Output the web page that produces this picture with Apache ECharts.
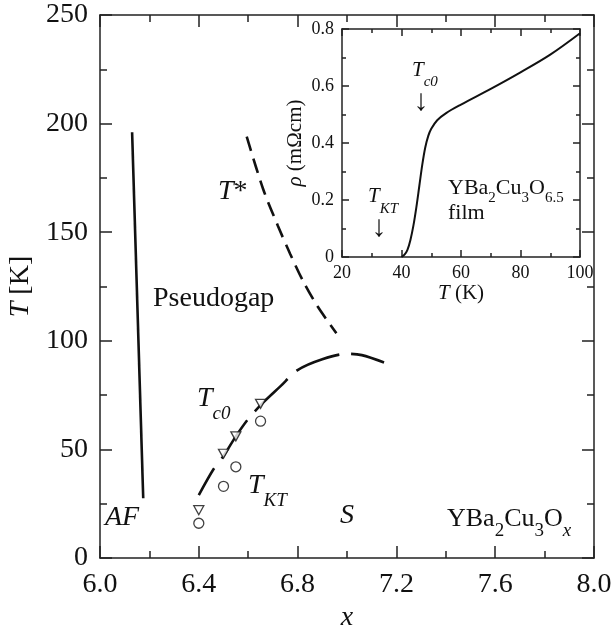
<!DOCTYPE html>
<html>
<head>
<meta charset="utf-8">
<script src="https://cdn.jsdelivr.net/npm/echarts@6/dist/echarts.min.js"></script>
<style>
html,body{margin:0;padding:0;background:#fff;}
#chart{width:614px;height:627px;}
</style>
</head>
<body>
<div id="chart"></div>
<script>
// ---- data ----
// main panel: x (oxygen content) vs T [K]
const afX = [6.13, 6.175];
const afT = [196, 27.5];
const tStarX = [6.594, 6.66, 6.72, 6.77, 6.82, 6.88, 6.957];
const tStarT = [194, 170, 153, 140, 128, 116, 103.5];
const tc0LineX = [6.40, 6.46, 6.50, 6.55, 6.60, 6.66, 6.73, 6.80, 6.90, 7.00, 7.06, 7.15];
const tc0LineT = [29, 41, 47, 56, 64, 71.5, 79, 86.5, 91.5, 94, 93.4, 90];
const tc0X = [6.40, 6.50, 6.55, 6.65];
const tc0T = [22, 48, 56, 71];
const tktX = [6.40, 6.50, 6.55, 6.65];
const tktT = [16, 33, 42, 63];
// inset: resistivity of YBa2Cu3O6.5 film
const rhoT = [40, 41, 42, 43, 44, 45, 46, 47, 48, 49, 50, 52, 55, 60, 70, 80, 90, 100];
const rhoV = [0, 0.008, 0.025, 0.06, 0.11, 0.175, 0.25, 0.325, 0.385, 0.425, 0.45, 0.48, 0.505, 0.535, 0.59, 0.648, 0.71, 0.785];
// tick settings
const mainXTicks = {min: 6.0, max: 8.0, step: 0.4};
const mainYTicks = {min: 0, max: 250, step: 50};
const insetXTicks = {min: 20, max: 100, step: 20};
const insetYTicks = {min: 0, max: 0.8, step: 0.2};

const pairs = (xs, ys) => xs.map((x, i) => [x, ys[i]]);

const FONT = "'Liberation Serif','Times New Roman',Times,serif";
const INK = '#111';
const AX = {color: '#222', width: 1.5};

function mainAxis(kind, pos, ticks, showLabel, extra) {
  return Object.assign({
    type: 'value', gridIndex: 0, position: pos,
    min: ticks.min, max: ticks.max, interval: ticks.step,
    axisLine: {show: true, onZero: false, lineStyle: AX},
    axisTick: {show: true, inside: true, length: 12, lineStyle: AX},
    minorTick: {show: true, splitNumber: 2, length: 7, lineStyle: AX},
    splitLine: {show: false}, minorSplitLine: {show: false},
    axisLabel: {show: showLabel, fontFamily: FONT, fontSize: 28, color: INK,
      margin: kind === 'x' ? 13 : 12,
      formatter: kind === 'x' ? (v => v.toFixed(1)) : (v => String(v))}
  }, extra || {});
}
function insetAxis(kind, pos, ticks, showLabel, extra) {
  return Object.assign({
    type: 'value', gridIndex: 1, position: pos,
    min: ticks.min, max: ticks.max, interval: ticks.step,
    axisLine: {show: true, onZero: false, lineStyle: AX},
    axisTick: {show: true, inside: true, length: 7, lineStyle: AX},
    minorTick: {show: true, splitNumber: 2, length: 4, lineStyle: AX},
    splitLine: {show: false}, minorSplitLine: {show: false},
    axisLabel: {show: showLabel, fontFamily: FONT, fontSize: 18, color: INK,
      margin: kind === 'x' ? 7 : 8,
      formatter: kind === 'x' ? (v => String(v)) : (v => v === 0 ? '0' : v.toFixed(1))}
  }, extra || {});
}

function rt(left, cy, text, rich, opts) {
  return {
    type: 'text', x: left, y: cy, z: 100,
    style: Object.assign({text: text, x: 0, y: 0, textAlign: 'left', textVerticalAlign: 'middle',
      font: '28px ' + FONT, fill: INK, rich: rich || {}}, opts || {})
  };
}
const R = (size, italic, pad) => ({fontSize: size, fontFamily: FONT, fontStyle: italic ? 'italic' : 'normal',
  fill: INK, verticalAlign: 'middle', padding: pad ? [pad, 0, 0, 0] : [0, 0, 0, 0]});

const chart = echarts.init(document.getElementById('chart'), null, {renderer: 'canvas'});
chart.setOption({
  animation: false,
  backgroundColor: '#fff',
  grid: [
    {left: 100, top: 15, right: 20, bottom: 69, containLabel: false, outerBoundsMode: 'none'},
    {left: 342, top: 29, right: 34, bottom: 370, containLabel: false, outerBoundsMode: 'none'}
  ],
  xAxis: [
    mainAxis('x', 'bottom', mainXTicks, true, {
      name: 'x', nameLocation: 'middle', nameGap: 39,
      nameTextStyle: {fontFamily: FONT, fontSize: 28, fontStyle: 'italic', color: INK}}),
    mainAxis('x', 'top', mainXTicks, false),
    insetAxis('x', 'bottom', insetXTicks, true, {
      name: '{i|T} (K)', nameLocation: 'middle', nameGap: 26,
      nameTextStyle: {fontFamily: FONT, fontSize: 21, color: INK,
        rich: {i: {fontFamily: FONT, fontSize: 21, fontStyle: 'italic', color: INK}}}}),
    insetAxis('x', 'top', insetXTicks, false)
  ],
  yAxis: [
    mainAxis('y', 'left', mainYTicks, true, {
      name: '{i|T} [K]', nameLocation: 'middle', nameGap: 59,
      nameTextStyle: {fontFamily: FONT, fontSize: 28, color: INK,
        rich: {i: {fontFamily: FONT, fontSize: 28, fontStyle: 'italic', color: INK}}}}),
    mainAxis('y', 'right', mainYTicks, false),
    insetAxis('y', 'left', insetYTicks, true, {
      name: '{i|ρ} (mΩcm)', nameLocation: 'middle', nameGap: 36,
      nameTextStyle: {fontFamily: FONT, fontSize: 21, color: INK,
        rich: {i: {fontFamily: FONT, fontSize: 21, fontStyle: 'italic', color: INK}}}}),
    insetAxis('y', 'right', insetYTicks, false)
  ],
  series: [
    {type: 'line', name: 'AF boundary', xAxisIndex: 0, yAxisIndex: 0, data: pairs(afX, afT),
      symbol: 'none', lineStyle: {color: INK, width: 2.6}},
    {type: 'line', name: 'T*', xAxisIndex: 0, yAxisIndex: 0, data: pairs(tStarX, tStarT),
      symbol: 'none', smooth: 0.3, lineStyle: {color: INK, width: 2.6, type: [15, 8]}},
    {type: 'line', name: 'Tc0 dome', xAxisIndex: 0, yAxisIndex: 0, data: pairs(tc0LineX, tc0LineT),
      symbol: 'none', smooth: 0.3, lineStyle: {color: INK, width: 2.6, type: [46, 12], dashOffset: 15}},
    {type: 'scatter', name: 'Tc0', xAxisIndex: 0, yAxisIndex: 0, data: pairs(tc0X, tc0T), z: 5,
      symbol: 'triangle', symbolRotate: 180, symbolSize: [10, 9],
      itemStyle: {color: '#fff', borderColor: INK, borderWidth: 1.3}},
    {type: 'scatter', name: 'TKT', xAxisIndex: 0, yAxisIndex: 0, data: pairs(tktX, tktT), z: 5,
      symbol: 'circle', symbolSize: 10,
      itemStyle: {color: '#fff', borderColor: INK, borderWidth: 1.3}},
    {type: 'line', name: 'rho', xAxisIndex: 2, yAxisIndex: 2, data: pairs(rhoT, rhoV),
      symbol: 'none', smooth: 0.35, lineStyle: {color: INK, width: 2}}
  ],
  graphic: [
    rt(153, 299, 'Pseudogap'),
    rt(218, 192, '{i|T}{n|*}', {i: R(28, true), n: R(28, false)}),
    rt(105, 518, 'AF', {}, {font: 'italic 28px ' + FONT}),
    rt(340, 516, 'S', {}, {font: 'italic 28px ' + FONT}),
    rt(197, 399, '{i|T}{s|c0}', {i: R(28, true), s: R(19, true, 30)}),
    rt(248, 486, '{i|T}{s|KT}', {i: R(28, true), s: R(19, true, 30)}),
    rt(447, 519, '{m|YBa}{s|2}{m|Cu}{s|3}{m|O}{si|x}',
      {m: R(26, false), s: R(19, false, 24), si: R(19, true, 24)}),
    // inset annotations
    rt(412, 70, '{i|T}{s|c0}', {i: R(21, true), s: R(15, true, 25)}),
    rt(421, 102, '↓', {}, {font: '30px ' + FONT, textAlign: 'center'}),
    rt(368, 196, '{i|T}{s|KT}', {i: R(21, true), s: R(15, true, 26)}),
    rt(379, 228, '↓', {}, {font: '30px ' + FONT, textAlign: 'center'}),
    rt(448, 188, '{m|YBa}{s|2}{m|Cu}{s|3}{m|O}{s|6.5}',
      {m: R(22, false), s: R(15, false, 21)}),
    rt(448, 213, 'film', {}, {font: '22px ' + FONT})
  ]
});
</script>
</body>
</html>
